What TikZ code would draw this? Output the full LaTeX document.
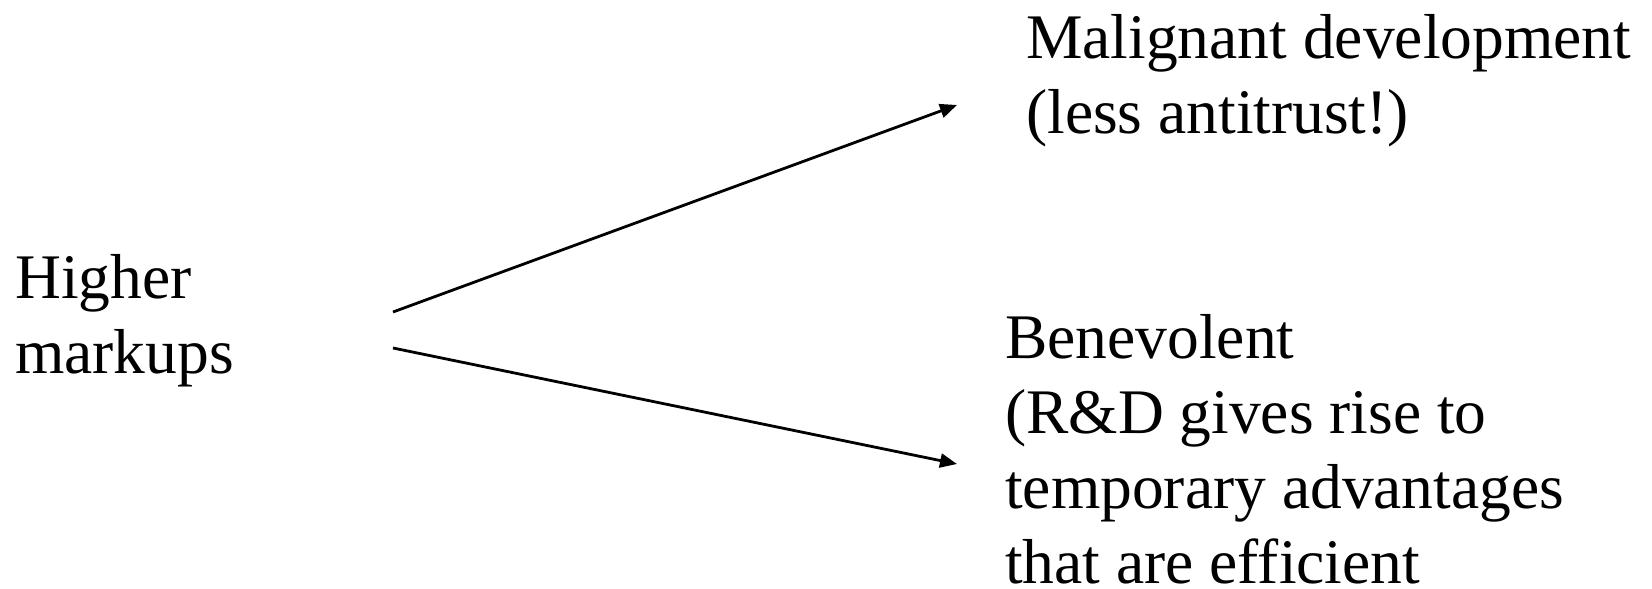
\documentclass[tikz,border=0pt]{standalone}
\usepackage{fontspec}
\setmainfont{Liberation Serif}
\usetikzlibrary{arrows.meta}
\begin{document}
\begin{tikzpicture}[x=1pt,y=-1pt,
  txt/.style={inner sep=0pt, anchor=base west, align=left, font=\fontsize{63.5}{75}\selectfont},
  conn/.style={line width=2.8pt, -{Triangle[length=17pt,width=14pt]}}]
\useasboundingbox (0,0) rectangle (1652,589);
\node[txt] (hm) at (15,373) {Higher\\markups};
\node[txt] (mal) at (1026,133) {Malignant development\\(less antitrust!)};
\node[txt] (ben) at (1005,583) {Benevolent\\(R\&D gives rise to\\temporary advantages\\that are efficient};
\coordinate (s1) at (393,312);
\coordinate (e1) at (957,105);
\coordinate (s2) at (393,348);
\coordinate (e2) at (957,464);
\draw[conn] (s1) -- (e1);
\draw[conn] (s2) -- (e2);
\end{tikzpicture}
\end{document}
